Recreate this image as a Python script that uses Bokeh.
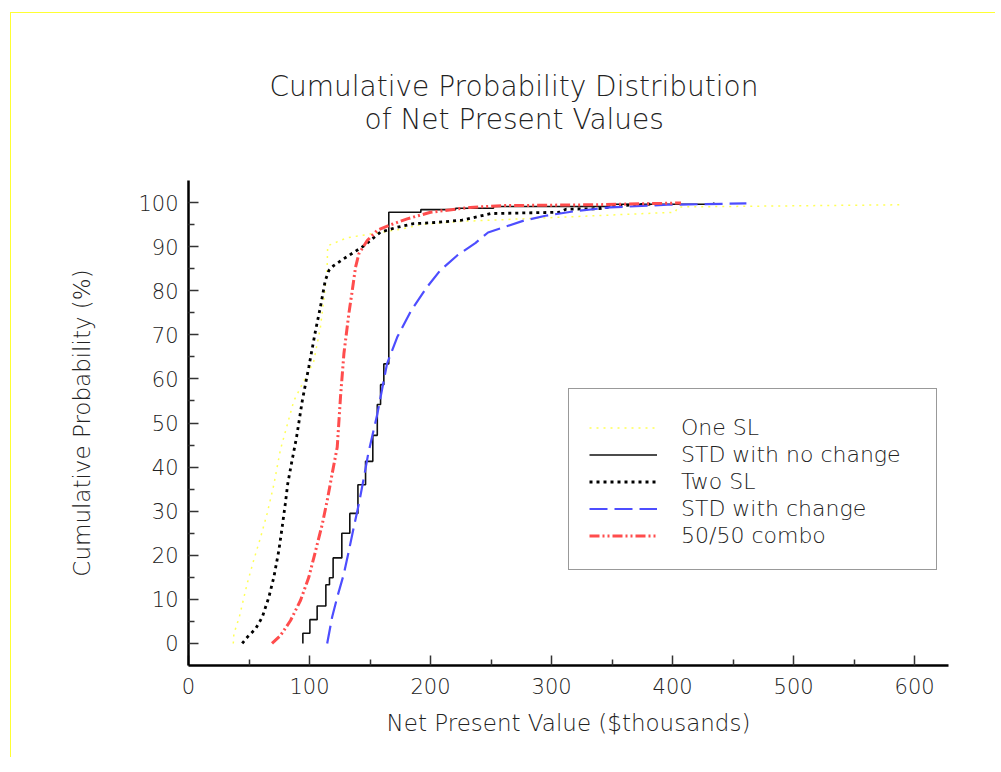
from bokeh.plotting import figure
from bokeh.models import (Range1d, FixedTicker, Legend, LegendItem, Title)
from bokeh.embed import file_html
from bokeh.resources import INLINE

FONT = "'DejaVu Sans Light', 'DejaVu Sans ExtraLight', 'DejaVu Sans'"

# ---- data ----
one_sl_x = [37, 37.5, 42, 48.5, 54, 59.5, 65, 70.5, 76, 87, 103.5, 109, 112, 114.5, 115,
            131, 153, 158.7, 176, 192, 224, 318, 402, 404.5, 591]
one_sl_y = [0, 2.2, 6, 13.6, 19, 24, 29.5, 36, 44, 55, 64, 71.7, 78.5, 84.6, 90.2,
            92, 93, 93.2, 94, 95, 95.7, 96.8, 97.8, 99, 99.5]

std_nc_x = [94.5, 94.5, 100.3, 106.3, 113.5, 116.5, 119.5, 126.7, 133.3, 140, 146.3,
            152.3, 156, 158.7, 161.4, 165.5, 192, 220.7, 252, 348, 434]
std_nc_y = [0, 2.3, 5.4, 8.5, 13.3, 14.9, 19.4, 25, 29.5, 36, 41.3,
            47.2, 54.2, 58.7, 63.4, 97.8, 98.4, 98.7, 99.1, 99.6, 100]

two_sl_x = [44.4, 48.5, 55.4, 61, 66.4, 70.5, 74.6, 77.4, 80, 82, 85, 89.3, 94, 99.4,
            105, 109, 113, 116, 120, 128, 136.6, 145, 158.7, 172.5, 186, 205.5, 226,
            250, 306.6, 312, 339, 354, 372, 390]
two_sl_y = [0, 1.4, 3.3, 6, 10.5, 15, 21, 26.4, 31.7, 36.2, 40.7, 46.8, 55, 62.7,
            71, 76.3, 82.3, 84.6, 85.7, 87.2, 88.7, 90.2, 93.3, 94.4, 95.2, 95.5, 96,
            97.5, 97.8, 98.5, 98.6, 99.3, 99.5, 99.8]

std_ch_x = [114.6, 118.7, 122.9, 128.4, 132.5, 136.6, 140.8, 145, 148.5, 156, 164,
            172.5, 184, 197, 208, 222, 237, 247.5, 277, 295, 318.5, 348, 396, 461]
std_ch_y = [0, 6, 10.5, 15.8, 21, 26.4, 31.7, 37.7, 43, 52, 63.4,
            69.5, 75.5, 80.8, 84.6, 88, 90.8, 93.2, 95.9, 97, 98, 98.9, 99.5, 99.8]

combo_x = [69, 76, 84.3, 92.6, 99.4, 105, 110.5, 114.6, 118.7, 122.9, 125.6, 128.4,
           132.5, 135.3, 138, 140.8, 147.7, 156, 165.5, 180.7, 200, 232.7, 259.5, 336, 407]
combo_y = [0, 1.8, 5.2, 9.8, 15, 21, 27, 32.4, 38.5, 44.5, 55.9, 65.7,
           74.8, 80, 85.3, 88.4, 91.4, 93.7, 94.8, 96.3, 97.8, 98.9, 99.3, 99.5, 99.9]

x_ticks = [0, 100, 200, 300, 400, 500, 600]
x_minor = [50, 150, 250, 350, 450, 550]
y_ticks = [0, 10, 20, 30, 40, 50, 60, 70, 80, 90, 100]
y_minor = [5, 15, 25, 35, 45, 55, 65, 75, 85, 95]

title_lines = ["Cumulative Probability Distribution", "of Net Present Values"]

# ---- figure ----
p = figure(width=985, height=745, output_backend="svg", toolbar_location=None,
           x_range=Range1d(0, 628), y_range=Range1d(-5, 105),
           min_border_left=177, min_border_top=167, min_border_right=48,
           min_border_bottom=93)
p.styles = {"margin-left": "10px", "margin-top": "12px",
            "border-top": "1px solid #ffff33", "border-left": "1px solid #ffff33"}
p.outline_line_color = None
p.grid.visible = False
p.background_fill_color = "white"
p.border_fill_color = "white"

for ax, ticks, minor in ((p.xaxis[0], x_ticks, x_minor), (p.yaxis[0], y_ticks, y_minor)):
    ax.ticker = FixedTicker(ticks=ticks, minor_ticks=minor)
    ax.axis_line_width = 2.5
    ax.axis_line_color = "black"
    ax.major_tick_in = 10
    ax.major_tick_out = 0
    ax.minor_tick_in = 6
    ax.minor_tick_out = 0
    ax.major_tick_line_color = "#333333"
    ax.minor_tick_line_color = "#333333"
    ax.major_tick_line_width = 1.5
    ax.minor_tick_line_width = 1.5
    ax.major_label_text_font = FONT
    ax.major_label_text_font_size = "21px"
    ax.major_label_text_color = "#222222"
    ax.axis_label_text_font = FONT
    ax.axis_label_text_font_size = "23px"
    ax.axis_label_text_font_style = "normal"
    ax.axis_label_text_color = "#222222"

p.xaxis.axis_label = "Net Present Value ($thousands)"
p.yaxis.axis_label = "Cumulative Probability (%)"
p.xaxis.major_label_standoff = 12
p.xaxis.axis_label_standoff = 13
p.yaxis.major_label_standoff = 10
p.yaxis.axis_label_standoff = 40

r1 = p.line(one_sl_x, one_sl_y, line_color="#ffff55", line_width=1.5, line_dash="2 5")
r2 = p.step(std_nc_x, std_nc_y, mode="after", line_color="#111111", line_width=1.6)
r3 = p.line(two_sl_x, two_sl_y, line_color="black", line_width=2.8, line_dash="3 4")
r4 = p.line(std_ch_x, std_ch_y, line_color="#4d4dff", line_width=2.2, line_dash="18 7")
r5 = p.line(combo_x, combo_y, line_color="#ff4d4d", line_width=3, line_dash="10 3 2 3 2 3")

legend = Legend(items=[
    LegendItem(label="One SL", renderers=[r1]),
    LegendItem(label="STD with no change", renderers=[r2]),
    LegendItem(label="Two SL", renderers=[r3]),
    LegendItem(label="STD with change", renderers=[r4]),
    LegendItem(label="50/50 combo", renderers=[r5]),
], location=(380, 95))
legend.title = " "
legend.title_text_font_size = "2px"
legend.title_standoff = 3
legend.padding = 20
legend.spacing = 0
legend.margin = 0
legend.label_height = 27
legend.glyph_height = 27
legend.glyph_width = 68
legend.label_standoff = 24
legend.label_width = 235
legend.label_text_font = FONT
legend.label_text_font_size = "22px"
legend.label_text_color = "#222222"
legend.border_line_color = "#333333"
legend.border_line_width = 1.2
legend.background_fill_color = "white"
legend.background_fill_alpha = 1
p.add_layout(legend, "center")

# title: spacer closest to the plot, then the second line, then the first line
p.add_layout(Title(text=" ", text_font_size="2px", standoff=40), "above")
p.add_layout(Title(text=title_lines[1], align="left", offset=176, standoff=2,
                   text_font=FONT, text_font_size="28px", text_font_style="normal",
                   text_color="#222222"), "above")
p.add_layout(Title(text=title_lines[0], align="left", offset=81, standoff=-7,
                   text_font=FONT, text_font_size="28px", text_font_style="normal",
                   text_color="#222222"), "above")

open("out.html", "w").write(file_html(p, INLINE))
